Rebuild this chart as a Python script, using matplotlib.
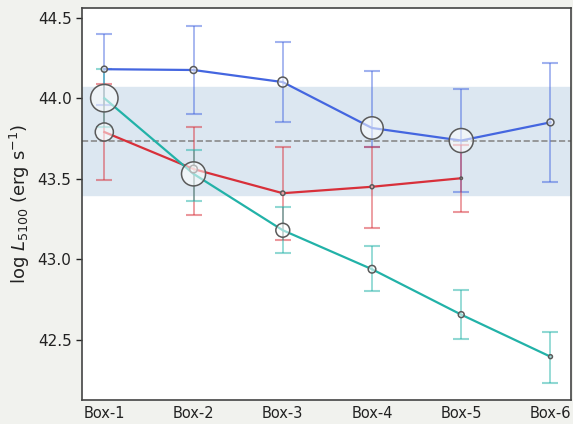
import numpy as np
import matplotlib.pyplot as plt

boxes = ['Box-1', 'Box-2', 'Box-3', 'Box-4', 'Box-5', 'Box-6']

# blue series
blue_y = [44.18, 44.175, 44.10, 43.815, 43.737, 43.85]
blue_lo = [0.22, 0.275, 0.25, 0.115, 0.32, 0.37]
blue_hi = [0.22, 0.275, 0.25, 0.355, 0.32, 0.37]
blue_s = [19, 25, 52, 260, 300, 25]

# red series (no Box-6)
red_y = [43.79, 43.56, 43.41, 43.45, 43.503]
red_lo = [0.30, 0.285, 0.29, 0.254, 0.207]
red_hi = [0.30, 0.26, 0.285, 0.25, 0.205]
red_s = [170, 30, 10, 8, 3]

# cyan series
cyan_y = [44.0, 43.53, 43.18, 42.938, 42.656, 42.395]
cyan_lo = [0.18, 0.168, 0.14, 0.138, 0.153, 0.161]
cyan_hi = [0.18, 0.147, 0.147, 0.147, 0.154, 0.155]
cyan_s = [390, 300, 100, 30, 18, 8]

band_mean = 43.733
band_half = 0.335

fig = plt.figure(figsize=(5.73, 4.24), dpi=100, facecolor='#f1f2ee')
ax = fig.add_axes([82/573, 1 - 400/424, 489/573, 392/424])
ax.set_facecolor('white')

x = np.arange(len(boxes))

ax.axhspan(band_mean - band_half, band_mean + band_half, color='#dce7f1', zorder=0)
ax.axhline(band_mean, color='#8a8a8a', ls='--', lw=1.2, zorder=1)

series = [
    (blue_y, blue_lo, blue_hi, blue_s, '#4466e0'),
    (red_y, red_lo, red_hi, red_s, '#d8303a'),
    (cyan_y, cyan_lo, cyan_hi, cyan_s, '#22b2a8'),
]
for ys, lo, hi, sz, col in series:
    xx = x[:len(ys)]
    ax.errorbar(xx, ys, yerr=[lo, hi], fmt='none', ecolor=col, alpha=0.5,
                elinewidth=1.3, capsize=5.5, capthick=1.5, zorder=2)
for ys, lo, hi, sz, col in series:
    xx = x[:len(ys)]
    ax.plot(xx, ys, color=col, lw=1.6, zorder=3)
for ys, lo, hi, sz, col in series:
    xx = x[:len(ys)]
    ax.scatter(xx, ys, s=sz, facecolor=(1, 1, 1, 0.55), edgecolor='#5a5a5a',
               linewidth=1.1, zorder=4)

ax.set_xlim(-0.25, 5.23)
ax.set_ylim(42.126, 44.56)
ax.set_xticks(x)
ax.set_xticklabels(boxes)
ax.set_yticks([42.5, 43.0, 43.5, 44.0, 44.5])
ax.tick_params(axis='x', length=0, labelsize=10.5, pad=4, colors='#222222')
ax.tick_params(axis='y', length=4, width=1, labelsize=11, colors='#222222')
for sp in ax.spines.values():
    sp.set_color('#444444')
    sp.set_linewidth(1.2)
ax.set_ylabel(r'log $L_{5100}$ (erg s$^{-1}$)', fontsize=13, color='#222222')

fig.savefig('out.png', dpi=100, facecolor=fig.get_facecolor())
